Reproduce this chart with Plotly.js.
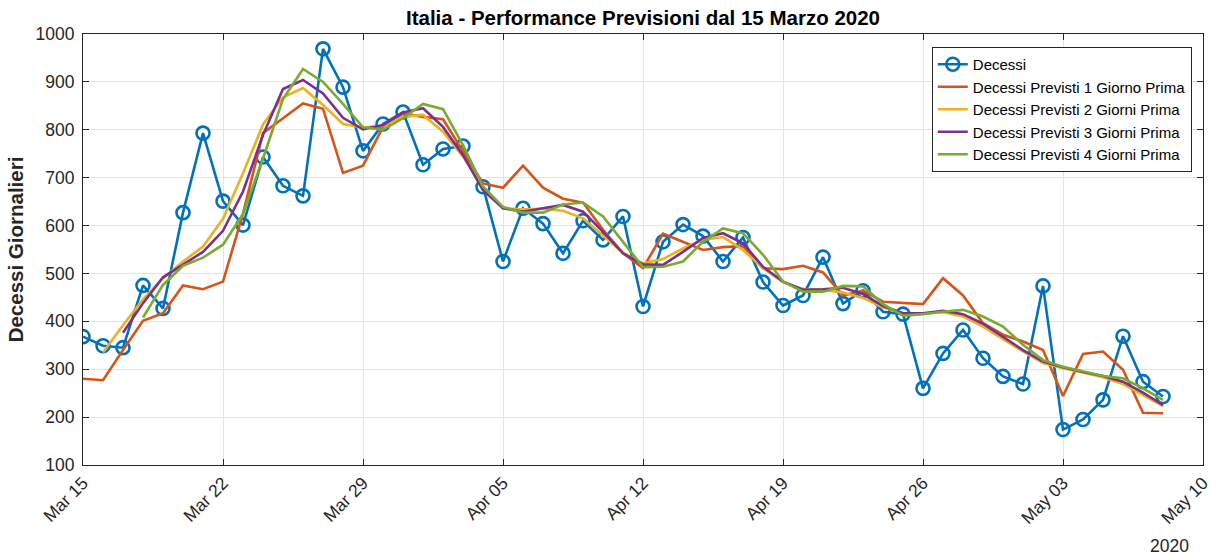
<!DOCTYPE html>
<html>
<head>
<meta charset="utf-8">
<script src="https://cdn.plot.ly/plotly-3.0.1.min.js"></script>
<style>html,body{margin:0;padding:0;background:#fff;}#chart{width:1228px;height:558px;}</style>
</head>
<body>
<div id="chart"></div>
<script>
const dates = [
 '2020-03-15','2020-03-16','2020-03-17','2020-03-18','2020-03-19','2020-03-20','2020-03-21','2020-03-22','2020-03-23','2020-03-24',
 '2020-03-25','2020-03-26','2020-03-27','2020-03-28','2020-03-29','2020-03-30','2020-03-31','2020-04-01','2020-04-02','2020-04-03',
 '2020-04-04','2020-04-05','2020-04-06','2020-04-07','2020-04-08','2020-04-09','2020-04-10','2020-04-11','2020-04-12','2020-04-13',
 '2020-04-14','2020-04-15','2020-04-16','2020-04-17','2020-04-18','2020-04-19','2020-04-20','2020-04-21','2020-04-22','2020-04-23',
 '2020-04-24','2020-04-25','2020-04-26','2020-04-27','2020-04-28','2020-04-29','2020-04-30','2020-05-01','2020-05-02','2020-05-03',
 '2020-05-04','2020-05-05','2020-05-06','2020-05-07','2020-05-08'
];
const decessi = [368,349,345,475,427,627,793,651,601,743,683,662,969,889,756,812,837,727,760,766,681,525,636,604,542,610,570,619,431,566,602,578,525,575,482,433,454,534,437,464,420,415,260,333,382,323,285,269,474,174,195,236,369,274,243];
const previsti1 = [280,277,340,401,417,475,467,483,625,793,824,855,844,710,725,806,834,827,822,754,688,679,725,679,656,648,591,542,511,583,566,549,555,557,511,509,516,502,454,464,441,438,436,490,454,396,372,358,340,244,332,337,299,209,208];
const previsti2 = [null,335,392,446,490,525,556,614,709,811,868,887,852,812,805,808,827,831,796,744,681,636,634,635,631,615,578,543,521,530,552,570,576,549,511,482,467,466,460,449,429,417,417,419,410,389,363,337,313,302,293,283,269,246,223];
const previsti3 = [null,null,376,438,492,518,545,589,671,789,885,904,876,825,801,810,836,845,806,747,674,636,629,636,643,629,587,542,519,518,545,574,584,563,514,483,466,467,470,457,432,417,417,422,415,395,367,340,316,304,294,286,274,251,225];
const previsti4 = [null,null,null,408,476,516,533,560,624,740,864,927,900,854,805,800,824,854,843,768,681,639,627,627,644,648,619,566,513,514,525,566,594,584,539,483,462,462,474,473,436,412,415,420,424,410,389,351,319,305,295,286,281,260,236];
const tickDates = ['2020-03-15','2020-03-22','2020-03-29','2020-04-05','2020-04-12','2020-04-19','2020-04-26','2020-05-03','2020-05-10'];
const tickLabels = ['Mar 15','Mar 22','Mar 29','Apr 05','Apr 12','Apr 19','Apr 26','May 03','May 10'];
const names = ['Decessi','Decessi Previsti 1 Giorno Prima','Decessi Previsti 2 Giorni Prima','Decessi Previsti 3 Giorni Prima','Decessi Previsti 4 Giorni Prima'];
const colors = ['#0072BD','#D95319','#EDB120','#7E2F8E','#77AC30'];

const series = [decessi, previsti1, previsti2, previsti3, previsti4];
const traces = series.map((ys, i) => {
  const t = {
    x: dates, y: ys, name: names[i], type: 'scatter',
    mode: i === 0 ? 'lines+markers' : 'lines',
    line: {color: colors[i], width: 2.6},
    connectgaps: false, hoverinfo: 'skip'
  };
  if (i === 0) t.marker = {symbol: 'circle-open', size: 13, color: colors[i], line: {width: 2.6, color: colors[i]}};
  return t;
});

const axisCommon = {
  showline: true, linecolor: '#262626', linewidth: 1, mirror: 'ticks',
  ticks: 'inside', ticklen: 6, tickcolor: '#262626',
  showgrid: true, gridcolor: '#e3e3e3', gridwidth: 1, zeroline: false,
  tickfont: {family: 'Liberation Sans, Arial, sans-serif', size: 17.5, color: '#262626'}
};

const layout = {
  width: 1228, height: 558,
  margin: {l: 83, r: 25, t: 34, b: 93},
  paper_bgcolor: '#ffffff', plot_bgcolor: '#ffffff',
  font: {family: 'Liberation Sans, Arial, sans-serif', color: '#262626'},
  title: {text: '<b>Italia - Performance Previsioni dal 15 Marzo 2020</b>', x: 0.5, xanchor: 'center', xref: 'paper',
          y: 0.968, yanchor: 'middle', font: {size: 20.5, color: '#000000'}},
  xaxis: Object.assign({}, axisCommon, {
    type: 'date', range: ['2020-03-15', '2020-05-10'],
    tickmode: 'array', tickvals: tickDates, ticktext: tickLabels, tickangle: -45
  }),
  yaxis: Object.assign({}, axisCommon, {
    range: [100, 1000], tickmode: 'linear', tick0: 100, dtick: 100, ticklabelstandoff: 4,
    title: {text: '<b>Decessi Giornalieri</b>', font: {size: 20.5, color: '#262626'}, standoff: 6}
  }),
  legend: {
    x: 0.99, xanchor: 'right', y: 0.97, yanchor: 'top',
    bgcolor: '#ffffff', bordercolor: '#262626', borderwidth: 1,
    font: {size: 15, color: '#000000'}, tracegroupgap: 0
  },
  showlegend: true,
  annotations: [{
    text: '2020', xref: 'paper', yref: 'paper', x: 0.9705, y: -0.188,
    xanchor: 'center', yanchor: 'middle', showarrow: false,
    font: {size: 17.5, color: '#262626'}
  }]
};

Plotly.newPlot('chart', traces, layout, {staticPlot: true, displayModeBar: false});
</script>
</body>
</html>
